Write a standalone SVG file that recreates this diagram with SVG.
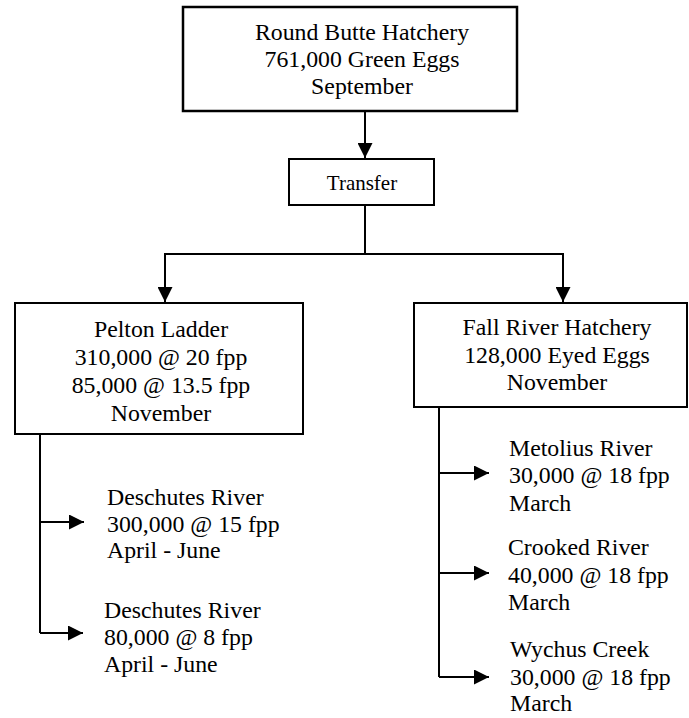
<svg xmlns="http://www.w3.org/2000/svg" width="689" height="718" viewBox="0 0 689 718">
<style>
.box{fill:#fff;stroke:#000;stroke-width:2}
.t{font-family:"Liberation Serif","Times New Roman",serif;font-size:23.8px;fill:#000}
.c{text-anchor:middle}
.ln{fill:none;stroke:#000;stroke-width:2}
</style>
<defs>
<marker id="ah" viewBox="0 0 10 10" refX="10" refY="5" markerWidth="16" markerHeight="15" markerUnits="userSpaceOnUse" orient="auto"><path d="M0,0L10,5L0,10Z" fill="#000"/></marker>
</defs>
<g id="connectors">
<path class="ln" d="M365,111V158" marker-end="url(#ah)"/>
<path class="ln" d="M365,205V254H165V302" marker-end="url(#ah)"/>
<path class="ln" d="M365,254H563V302" marker-end="url(#ah)"/>
<path class="ln" d="M40,434V633"/>
<path class="ln" d="M40,522H84" marker-end="url(#ah)"/>
<path class="ln" d="M40,633H83" marker-end="url(#ah)"/>
<path class="ln" d="M439,407V677"/>
<path class="ln" d="M439,473H489" marker-end="url(#ah)"/>
<path class="ln" d="M439,573H489" marker-end="url(#ah)"/>
<path class="ln" d="M439,677H489" marker-end="url(#ah)"/>
</g>
<g id="round-butte">
<rect class="box" x="183" y="7" width="334" height="104" style="stroke-width:2.5"/>
<text class="t c" x="362" y="40">Round Butte Hatchery</text>
<text class="t c" x="362" y="67">761,000 Green Eggs</text>
<text class="t c" x="362" y="94">September</text>
</g>
<g id="transfer">
<rect class="box" x="289" y="159" width="145" height="46"/>
<text class="t c" x="362" y="190" style="font-size:21px">Transfer</text>
</g>
<g id="pelton">
<rect class="box" x="15" y="303" width="288" height="131"/>
<text class="t c" x="161" y="337">Pelton Ladder</text>
<text class="t c" x="161" y="365">310,000 @ 20 fpp</text>
<text class="t c" x="161" y="393">85,000 @ 13.5 fpp</text>
<text class="t c" x="161" y="421">November</text>
</g>
<g id="fall-river">
<rect class="box" x="414" y="303" width="273" height="104"/>
<text class="t c" x="557" y="335">Fall River Hatchery</text>
<text class="t c" x="557" y="363">128,000 Eyed Eggs</text>
<text class="t c" x="557" y="390">November</text>
</g>
<g id="deschutes-1">
<text class="t" x="107" y="505">Deschutes River</text>
<text class="t" x="107" y="532">300,000 @ 15 fpp</text>
<text class="t" x="107" y="558">April - June</text>
</g>
<g id="deschutes-2">
<text class="t" x="104" y="618">Deschutes River</text>
<text class="t" x="104" y="645">80,000 @ 8 fpp</text>
<text class="t" x="104" y="672">April - June</text>
</g>
<g id="metolius">
<text class="t" x="509" y="456">Metolius River</text>
<text class="t" x="509" y="483">30,000 @ 18 fpp</text>
<text class="t" x="509" y="511">March</text>
</g>
<g id="crooked">
<text class="t" x="508" y="555">Crooked River</text>
<text class="t" x="508" y="583">40,000 @ 18 fpp</text>
<text class="t" x="508" y="610">March</text>
</g>
<g id="wychus">
<text class="t" x="510" y="657">Wychus Creek</text>
<text class="t" x="510" y="685">30,000 @ 18 fpp</text>
<text class="t" x="510" y="711">March</text>
</g>
</svg>
